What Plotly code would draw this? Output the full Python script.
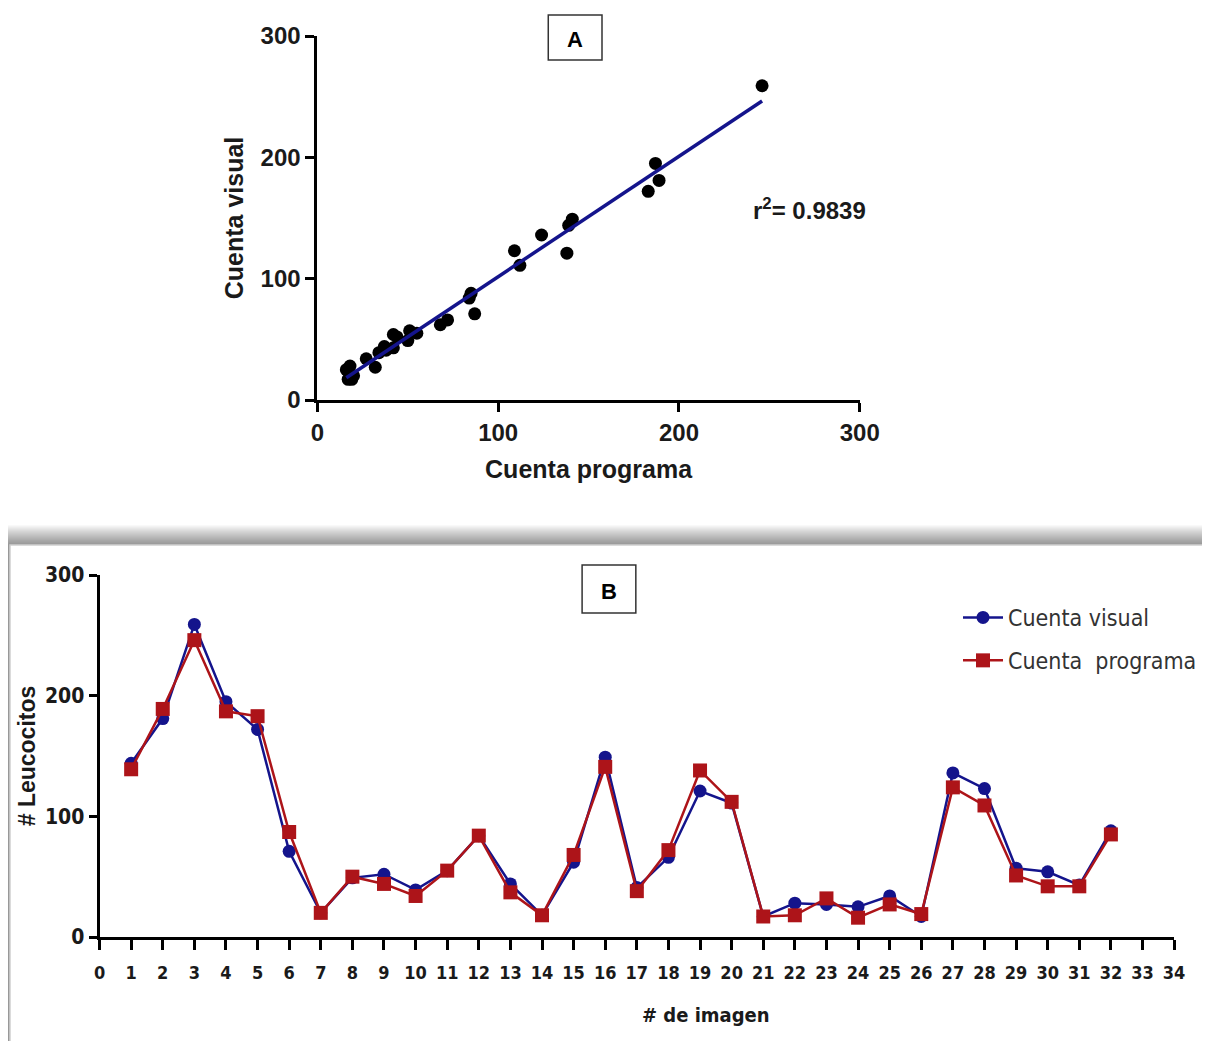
import numpy as np
import plotly.graph_objects as go

# ---- data ----
imagen = list(range(1, 33))
cuenta_visual = [144, 181, 259, 195, 172, 71, 20, 49, 52, 39, 55, 84, 44, 18, 62, 149,
                 41, 66, 121, 111, 17, 28, 27, 25, 34, 17, 136, 123, 57, 54, 43, 88]
cuenta_programa = [139, 189, 246, 187, 183, 87, 20, 50, 44, 34, 55, 84, 37, 18, 68, 141,
                   38, 72, 138, 112, 17, 18, 32, 16, 27, 19, 124, 109, 51, 42, 42, 85]
r2_label = "r<sup>2</sup>= 0.9839"
x_ticks_B = list(range(0, 35))
y_ticks = [0, 100, 200, 300]

# page is 1210x1049; the html body has an 8px margin, so the figure is 16px smaller
W, H = 1194, 1033
OFF = 8
def px(x):
    return (x - OFF) / W
def py(y):
    return 1 - (y - OFF) / H

BLUE = "#14148c"
RED = "#ad1419"
FONT = "Liberation Sans"
NARROW = "Liberation Sans Narrow, DejaVu Sans Condensed, Liberation Sans"

fig = go.Figure()

# ---- Panel A: scatter + regression ----
fig.add_trace(go.Scatter(
    x=cuenta_programa, y=cuenta_visual, mode="markers",
    marker=dict(color="black", size=13), xaxis="x", yaxis="y",
    showlegend=False, cliponaxis=False))
slope, intercept = np.polyfit(cuenta_programa, cuenta_visual, 1)
xr = np.array([min(cuenta_programa), max(cuenta_programa)])
fig.add_trace(go.Scatter(
    x=xr, y=slope * xr + intercept, mode="lines",
    line=dict(color=BLUE, width=3.5), xaxis="x", yaxis="y", showlegend=False))

# ---- Panel B: lines ----
fig.add_trace(go.Scatter(
    x=imagen, y=cuenta_visual, mode="lines+markers", name="Cuenta visual",
    legendgroup="v",
    line=dict(color=BLUE, width=2.5), marker=dict(symbol="circle", size=13, color=BLUE),
    xaxis="x2", yaxis="y2", cliponaxis=False))
fig.add_trace(go.Scatter(
    x=imagen, y=cuenta_programa, mode="lines+markers", name="Cuenta  programa",
    legendgroup="p",
    line=dict(color=RED, width=2.5), marker=dict(symbol="square", size=14, color=RED),
    xaxis="x2", yaxis="y2", cliponaxis=False))

axis_common = dict(showline=True, linecolor="black", linewidth=3, ticks="outside",
                   tickwidth=2.5, tickcolor="black", showgrid=False,
                   zeroline=False, mirror=False, automargin=False)

fig.update_layout(
    width=W, height=H, margin=dict(l=0, r=0, t=0, b=0),
    paper_bgcolor="white", plot_bgcolor="white",
    xaxis=dict(domain=[px(319), px(864)], range=[0, 300], tickvals=y_ticks,
               anchor="y", ticklen=9,
               title=dict(text="Cuenta programa", standoff=16,
                          font=dict(family=FONT, size=25, color="#1a1a1a", weight="bold")),
               tickfont=dict(family=FONT, size=24, color="#1a1a1a", weight="bold"), **axis_common),
    yaxis=dict(domain=[py(400), py(36)], range=[0, 300], tickvals=y_ticks,
               anchor="x", ticklen=9,
               title=dict(text="Cuenta visual", standoff=10,
                          font=dict(family=FONT, size=25, color="#1a1a1a", weight="bold")),
               tickfont=dict(family=FONT, size=24, color="#1a1a1a", weight="bold"), **axis_common),
    xaxis2=dict(domain=[px(100), px(1180)], range=[0, 34], tickvals=x_ticks_B,
                anchor="y2", ticklen=10, ticklabelstandoff=7,
                tickfont=dict(family=NARROW, size=18, color="#1a1a1a", weight="bold"), **axis_common),
    yaxis2=dict(domain=[py(937), py(575)], range=[0, 300], tickvals=y_ticks,
                anchor="x2", ticklen=8,
                title=dict(text="# Leucocitos", standoff=3,
                           font=dict(family=FONT, size=23, color="#1a1a1a", weight="bold")),
                tickfont=dict(family=NARROW, size=21, color="#1a1a1a", weight="bold"), **axis_common),
    legend=dict(x=px(963), y=py(596), xanchor="left", yanchor="top",
                font=dict(family=NARROW, size=23, color="#333"),
                bgcolor="rgba(0,0,0,0)", itemwidth=40, tracegroupgap=10),
)

# Panel B framed box with soft shadow on top
shapes = []
for i in range(20):
    shapes.append(dict(type="rect", xref="paper", yref="paper",
                       x0=px(8), x1=px(1210), y0=py(1049), y1=py(525 + i),
                       line=dict(width=0), fillcolor="rgba(0,0,0,0.025)", layer="below"))
shapes.append(dict(type="rect", xref="paper", yref="paper",
                   x0=px(10), x1=px(1210), y0=py(1049), y1=py(545),
                   line=dict(color="#cfcfcf", width=1.5), fillcolor="white", layer="below"))
# Label boxes
shapes.append(dict(type="rect", xref="paper", yref="paper",
                   x0=px(551), x1=px(605), y0=py(60), y1=py(15),
                   line=dict(color="#333", width=1.5)))
shapes.append(dict(type="rect", xref="paper", yref="paper",
                   x0=px(585), x1=px(639), y0=py(613), y1=py(565),
                   line=dict(color="#333", width=1.5)))
fig.update_layout(shapes=shapes)

annotations = [
    dict(text="A", x=px(578), y=py(40), xref="paper", yref="paper", showarrow=False,
         xanchor="center", yanchor="middle",
         font=dict(family=FONT, size=22, color="black", weight="bold")),
    dict(text="B", x=px(612), y=py(591), xref="paper", yref="paper", showarrow=False,
         xanchor="center", yanchor="middle",
         font=dict(family=FONT, size=22, color="black", weight="bold")),
    dict(text=r2_label, x=px(755), y=py(209), xref="paper", yref="paper", showarrow=False,
         xanchor="left", yanchor="middle",
         font=dict(family=FONT, size=24, color="#1a1a1a", weight="bold")),
    dict(text="# de imagen", x=px(710), y=py(1015), xref="paper", yref="paper", showarrow=False,
         xanchor="center", yanchor="middle",
         font=dict(family=NARROW, size=20, color="#1a1a1a", weight="bold")),
]
fig.update_layout(annotations=annotations)

fig.write_html("out.html")
